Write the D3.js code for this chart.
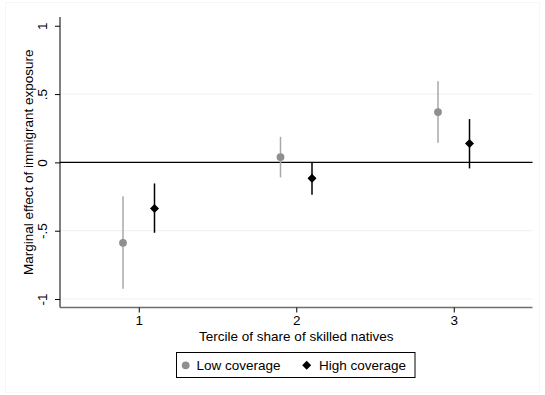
<!DOCTYPE html>
<html>
<head>
<meta charset="utf-8">
<script src="https://cdn.jsdelivr.net/npm/d3@7"></script>
<style>
  html, body { margin: 0; padding: 0; background: #fff; }
  svg { display: block; font-family: "Liberation Sans", Arial, sans-serif; }
</style>
</head>
<body>
<svg id="chart" width="545" height="395"></svg>
<script>
// Terciles of skilled-native share
const terciles = [1, 2, 3];

// Low coverage: point estimates and confidence bounds
const lowEstimate = [-0.589, 0.039, 0.368];
const lowUpper    = [-0.247, 0.187, 0.593];
const lowLower    = [-0.925, -0.110, 0.143];

// High coverage: point estimates and confidence bounds
const highEstimate = [-0.337, -0.117, 0.139];
const highUpper    = [-0.154, 0.000, 0.317];
const highLower    = [-0.515, -0.237, -0.044];

const yTicks = [1, 0.5, 0, -0.5, -1];
const yTickLabels = ["1", ".5", "0", "-.5", "-1"];
const xTicks = [1, 2, 3];

const seriesNames = ["Low coverage", "High coverage"];

const svg = d3.select("#chart");
const W = 545, H = 395;

// outer graph region frame
svg.append("rect")
  .attr("x", 5.5).attr("y", 2.5)
  .attr("width", W - 11).attr("height", H - 5)
  .attr("fill", "#fff").attr("stroke", "#f6f7f7").attr("stroke-width", 1);

const plot = { left: 60, right: 532.5, top: 17, bottom: 307.5 };

const x = d3.scaleLinear().domain([0.5, 3.5]).range([plot.left, plot.right]);
const y = d3.scaleLinear().domain([-1.062, 1.064]).range([plot.bottom, plot.top]);

// horizontal gridlines (not at the axis extreme)
svg.append("g")
  .selectAll("line")
  .data(yTicks.filter(d => d !== 0 && d !== 1))
  .join("line")
  .attr("x1", plot.left).attr("x2", plot.right)
  .attr("y1", d => y(d)).attr("y2", d => y(d))
  .attr("stroke", "#eaf1f1").attr("stroke-width", 1);

// reference line at zero
svg.append("line")
  .attr("x1", plot.left).attr("x2", plot.right)
  .attr("y1", y(0)).attr("y2", y(0))
  .attr("stroke", "#000").attr("stroke-width", 1.3);

// y axis
const yAxis = d3.axisLeft(y)
  .tickValues(yTicks)
  .tickFormat((d, i) => yTickLabels[i])
  .tickSize(5)
  .tickPadding(4);
const gy = svg.append("g")
  .attr("transform", `translate(${plot.left},0)`)
  .call(yAxis);
gy.select(".domain").attr("d", `M0,${plot.top}V${plot.bottom}`).attr("stroke", "#000").attr("stroke-width", 1);
gy.selectAll(".tick line").attr("stroke", "#000");
gy.selectAll(".tick text")
  .attr("font-size", 13.5)
  .attr("fill", "#000")
  .attr("text-anchor", "middle")
  .attr("x", 0).attr("dy", 0)
  .attr("transform", "translate(-13,0) rotate(-90)");

// x axis
const xAxis = d3.axisBottom(x)
  .tickValues(xTicks)
  .tickFormat(d3.format("d"))
  .tickSize(5)
  .tickPadding(3);
const gx = svg.append("g")
  .attr("transform", `translate(0,${plot.bottom})`)
  .call(xAxis);
gx.select(".domain").attr("d", `M${plot.left},0H${plot.right}`).attr("stroke", "#6e6e6e").attr("stroke-width", 1.6);
gx.selectAll(".tick line").attr("stroke", "#000");
gx.selectAll(".tick text").attr("font-size", 13.5).attr("fill", "#000");

// axis titles
svg.append("text")
  .attr("x", (plot.left + plot.right) / 2 - 0)
  .attr("y", 341)
  .attr("text-anchor", "middle")
  .attr("font-size", 13.5)
  .text("Tercile of share of skilled natives");

svg.append("text")
  .attr("transform", `translate(33,${(plot.top + plot.bottom) / 2}) rotate(-90)`)
  .attr("text-anchor", "middle")
  .attr("font-size", 13.5)
  .text("Marginal effect of immigrant exposure");

// data rows
const low = terciles.map((t, i) => ({ t: t - 0.1, est: lowEstimate[i], lo: lowLower[i], hi: lowUpper[i] }));
const high = terciles.map((t, i) => ({ t: t + 0.1, est: highEstimate[i], lo: highLower[i], hi: highUpper[i] }));

// confidence intervals
svg.append("g").selectAll("line").data(low).join("line")
  .attr("x1", d => x(d.t)).attr("x2", d => x(d.t))
  .attr("y1", d => y(d.lo)).attr("y2", d => y(d.hi))
  .attr("stroke", "#a8a8a8").attr("stroke-width", 1.5);

svg.append("g").selectAll("line").data(high).join("line")
  .attr("x1", d => x(d.t)).attr("x2", d => x(d.t))
  .attr("y1", d => y(d.lo)).attr("y2", d => y(d.hi))
  .attr("stroke", "#000").attr("stroke-width", 1.5);

// point estimates
const circleSym = d3.symbol().type(d3.symbolCircle).size(48);
const diamondSym = d3.symbol().type(d3.symbolDiamond2).size(52);

svg.append("g").selectAll("path").data(low).join("path")
  .attr("d", circleSym)
  .attr("transform", d => `translate(${x(d.t)},${y(d.est)})`)
  .attr("fill", "#8f8f8f");

svg.append("g").selectAll("path").data(high).join("path")
  .attr("d", diamondSym)
  .attr("transform", d => `translate(${x(d.t)},${y(d.est)})`)
  .attr("fill", "#000");

// legend
const lg = svg.append("g");
lg.append("rect")
  .attr("x", 176.5).attr("y", 352.5)
  .attr("width", 238.5).attr("height", 25)
  .attr("fill", "#fff").attr("stroke", "#000").attr("stroke-width", 1);
lg.append("path").attr("d", circleSym)
  .attr("transform", "translate(185.7,365.3)").attr("fill", "#8f8f8f");
lg.append("text").attr("x", 196.5).attr("y", 370).attr("font-size", 13.5).text(seriesNames[0]);
lg.append("path").attr("d", diamondSym)
  .attr("transform", "translate(306.7,365.3)").attr("fill", "#000");
lg.append("text").attr("x", 319).attr("y", 370).attr("font-size", 13.5).text(seriesNames[1]);
</script>
</body>
</html>
